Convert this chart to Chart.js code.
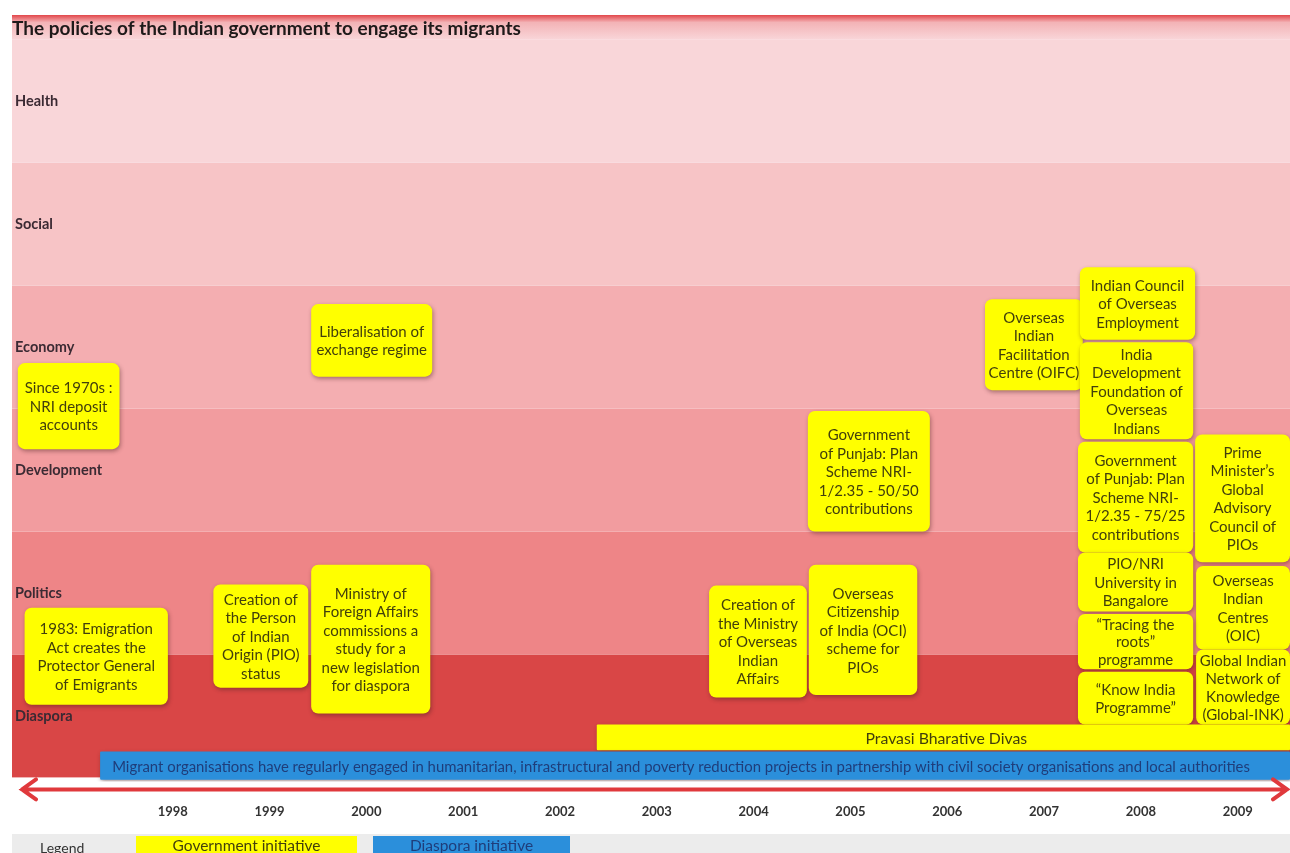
<!doctype html>
<html lang="en">
  <head>
    <meta charset="utf-8">
    <title>Indian government policies to engage its migrants</title>
    <style>
      html, body { margin: 0; padding: 0; background: #fff; }
      #graph { width: 1290px; height: 853px; }
    </style>
  </head>
  <body>
    <div id="graph"><canvas id="timeline"></canvas></div>
  <script src="https://cdn.jsdelivr.net/npm/chart.js"></script>
<script>
  // timeline years (x axis)
  const years = [1998, 1999, 2000, 2001, 2002, 2003, 2004, 2005, 2006, 2007, 2008, 2009];
  // policy areas, bottom to top (y axis, one unit each)
  const areas = ['Diaspora', 'Politics', 'Development', 'Economy', 'Social', 'Health'];
  const areaColors = ['#d94646', '#ee8587', '#f29c9f', '#f4aeb1', '#f7c4c6', '#f9d6d9'];

  // initiatives: text, kind, year span and vertical span in area units
  const initText = [
    'Since 1970s :\nNRI deposit\naccounts',
    'Liberalisation of\nexchange regime',
    '1983: Emigration\nAct creates the\nProtector General\nof Emigrants',
    'Creation of\nthe Person\nof Indian\nOrigin (PIO)\nstatus',
    'Ministry of\nForeign Affairs\ncommissions a\nstudy for a\nnew legislation\nfor diaspora',
    'Creation of\nthe Ministry\nof Overseas\nIndian\nAffairs',
    'Government\nof Punjab: Plan\nScheme NRI-\n1/2.35 - 50/50\ncontributions',
    'Overseas\nCitizenship\nof India (OCI)\nscheme for\nPIOs',
    'Overseas\nIndian\nFacilitation\nCentre (OIFC)',
    'Indian Council\nof Overseas\nEmployment',
    'India\nDevelopment\nFoundation of\nOverseas\nIndians',
    'Government\nof Punjab: Plan\nScheme NRI-\n1/2.35 - 75/25\ncontributions',
    'Prime\nMinister\u2019s\nGlobal\nAdvisory\nCouncil of\nPIOs',
    'PIO/NRI\nUniversity in\nBangalore',
    'Overseas\nIndian\nCentres\n(OIC)',
    '\u201cTracing the\nroots\u201d\nprogramme',
    'Global Indian\nNetwork of\nKnowledge\n(Global-INK)',
    '\u201cKnow India\nProgramme\u201d',
    'Pravasi Bharative Divas',
    'Migrant organisations have regularly engaged in humanitarian, infrastructural and poverty reduction projects in partnership with civil society organisations and local authorities'
  ];
  const initKind = ['gov', 'gov', 'gov', 'gov', 'gov', 'gov', 'gov', 'gov', 'gov', 'gov',
                    'gov', 'gov', 'gov', 'gov', 'gov', 'gov', 'gov', 'gov', 'gov', 'diaspora'];
  const initFrom = [1996.40, 1999.43, 1996.47, 1998.42, 1999.43, 2003.54, 2004.56, 2004.57, 2006.39, 2007.37,
                    2007.37, 2007.35, 2008.56, 2007.35, 2008.57, 2007.35, 2008.57, 2007.35, 2002.38, 1997.25];
  const initTo   = [1997.45, 2000.68, 1997.95, 1999.40, 2000.66, 2004.55, 2005.82, 2005.69, 2007.40, 2008.56,
                    2008.54, 2008.54, 2009.54, 2008.54, 2009.54, 2008.54, 2009.54, 2008.54, 2009.54, 2009.54];
  const initTop  = [3.37, 3.85, 1.38, 1.57, 1.73, 1.56, 2.98, 1.73, 3.89, 4.15,
                    3.54, 2.73, 2.79, 1.83, 1.72, 1.33, 1.04, 0.86, 0.43, 0.21];
  const initBottom = [2.67, 3.26, 0.59, 0.73, 0.52, 0.65, 2.00, 0.67, 3.15, 3.56,
                      2.75, 1.83, 1.75, 1.35, 1.04, 0.88, 0.43, 0.43, 0.22, -0.02];
  // where single-line bar captions are centred (year)
  const captionAt = { 18: 2005.99, 19: 2003.25 };

  const legendLabels = ['Government initiative', 'Diaspora initiative'];
  const kindFill = { gov: '#ffff00', diaspora: '#2b8fdb' };
  const kindText = { gov: '#423f0c', diaspora: '#1f3d7a' };

  // band backgrounds and title strip, drawn under the axis labels
  const bands = {
    id: 'bands',
    beforeDraw(chart) {
      const { ctx, chartArea: a, scales: { y } } = chart;
      ctx.save();
      let g = ctx.createLinearGradient(0, 15, 0, a.top);
      g.addColorStop(0, '#e2474b');
      g.addColorStop(0.3, '#f3b3b6');
      g.addColorStop(1, '#f9d6d9');
      ctx.fillStyle = g;
      ctx.fillRect(a.left, 15, a.right - a.left, a.top - 15);
      areas.forEach((name, i) => {
        const top = y.getPixelForValue(i + 1);
        const bottom = y.getPixelForValue(i);
        ctx.fillStyle = areaColors[i];
        ctx.fillRect(a.left, top, a.right - a.left, bottom - top);
      });
      ctx.restore();
    }
  };

  // yellow / blue initiative boxes
  const boxes = {
    id: 'boxes',
    afterDatasetsDraw(chart) {
      const { ctx, chartArea: a, scales: { x, y } } = chart;
      ctx.save();
      ctx.beginPath();
      ctx.rect(a.left, a.top, a.right - a.left, a.bottom - a.top + 4);
      ctx.clip();
      initText.forEach((txt, i) => {
        const x0 = x.getPixelForValue(initFrom[i]);
        const x1 = x.getPixelForValue(initTo[i]);
        const y0 = y.getPixelForValue(initTop[i]);
        const y1 = y.getPixelForValue(initBottom[i]);
        const w = x1 - x0, h = y1 - y0;
        const r = h > 40 ? 7 : 1;
        ctx.save();
        ctx.shadowColor = 'rgba(70,30,30,0.45)';
        ctx.shadowBlur = 4;
        ctx.shadowOffsetX = 1;
        ctx.shadowOffsetY = 2;
        ctx.fillStyle = kindFill[initKind[i]];
        ctx.beginPath();
        ctx.roundRect(x0, y0, w, h, r);
        ctx.fill();
        ctx.restore();

        const lines = txt.split('\n');
        const lh = Math.min(18.5, (h - 3) / lines.length);
        ctx.fillStyle = kindText[initKind[i]];
        ctx.font = initKind[i] === 'diaspora' ? '14.9px Lato' : (i === 18 ? '15.8px Lato' : '15px Lato');
        ctx.textAlign = 'center';
        ctx.textBaseline = 'middle';
        const cx = i in captionAt ? x.getPixelForValue(captionAt[i]) : x0 + w / 2;
        lines.forEach((ln, k) => {
          ctx.fillText(ln, cx, y0 + h / 2 + (k - (lines.length - 1) / 2) * lh + 1);
        });
      });
      ctx.restore();
    },
    afterDraw(chart) {
      const { ctx, chartArea: a } = chart;
      ctx.save();
      // double headed timeline arrow
      const ay = a.bottom + 12;
      ctx.strokeStyle = '#e0393c';
      ctx.lineWidth = 4;
      ctx.lineCap = 'round';
      ctx.beginPath();
      ctx.moveTo(a.left + 10, ay);
      ctx.lineTo(a.right - 3, ay);
      ctx.moveTo(a.left + 24, ay - 10);
      ctx.lineTo(a.left + 10, ay);
      ctx.lineTo(a.left + 24, ay + 10);
      ctx.moveTo(a.right - 17, ay - 10);
      ctx.lineTo(a.right - 3, ay);
      ctx.lineTo(a.right - 17, ay + 10);
      ctx.stroke();

      // legend strip
      const ly = chart.height - 19;
      ctx.fillStyle = '#ececec';
      ctx.fillRect(a.left, ly, a.right - a.left, 19);
      ctx.fillStyle = '#333';
      ctx.font = '14px Lato';
      ctx.textAlign = 'left';
      ctx.textBaseline = 'middle';
      ctx.fillText('Legend', 40, ly + 14);
      const lx = [136, 373], lw = [221, 197];
      ctx.font = '15.5px Lato';
      ['gov', 'diaspora'].forEach((k, i) => {
        ctx.fillStyle = kindFill[k];
        ctx.fillRect(lx[i], ly + 2, lw[i], 17);
        ctx.fillStyle = kindText[k];
        ctx.textAlign = 'center';
        ctx.fillText(legendLabels[i], lx[i] + lw[i] / 2, ly + 12);
      });
      ctx.restore();
    }
  };

  new Chart(document.getElementById('timeline'), {
    type: 'scatter',
    data: { datasets: [] },
    options: {
      responsive: true,
      maintainAspectRatio: false,
      animation: false,
      layout: { padding: { left: 6, right: 0, top: 13, bottom: 6 } },
      plugins: {
        legend: { display: false },
        tooltip: { enabled: false },
        title: {
          display: true,
          fullSize: false,
          text: 'The policies of the Indian government to engage its migrants',
          align: 'start',
          color: '#1e1a1a',
          font: { family: 'Lato', size: 19, weight: 'bold' },
          padding: { top: 4, bottom: 0 }
        }
      },
      scales: {
        x: {
          type: 'linear',
          min: 1996.34,
          max: 2009.54,
          grid: { display: false, drawTicks: false },
          border: { display: false },
          afterBuildTicks: (s) => { s.ticks = years.map(v => ({ value: v })); },
          ticks: {
            padding: 27,
            autoSkip: false,
            maxRotation: 0,
            color: '#333',
            font: { family: 'Lato', size: 13, weight: 'bold' },
            callback: (v) => String(v)
          }
        },
        y: {
          type: 'linear',
          min: 0,
          max: 6,
          grid: { display: false, drawTicks: false },
          border: { display: false },
          afterBuildTicks: (s) => { s.ticks = areas.map((n, i) => ({ value: i + 0.5 })); },
          ticks: {
            mirror: true,
            padding: 3,
            color: '#3b2a33',
            font: { family: 'Lato', size: 14.5, weight: 'bold' },
            callback: (v) => areas[Math.floor(v)]
          }
        }
      }
    },
    plugins: [bands, boxes]
  });
</script>
  </body>
</html>
